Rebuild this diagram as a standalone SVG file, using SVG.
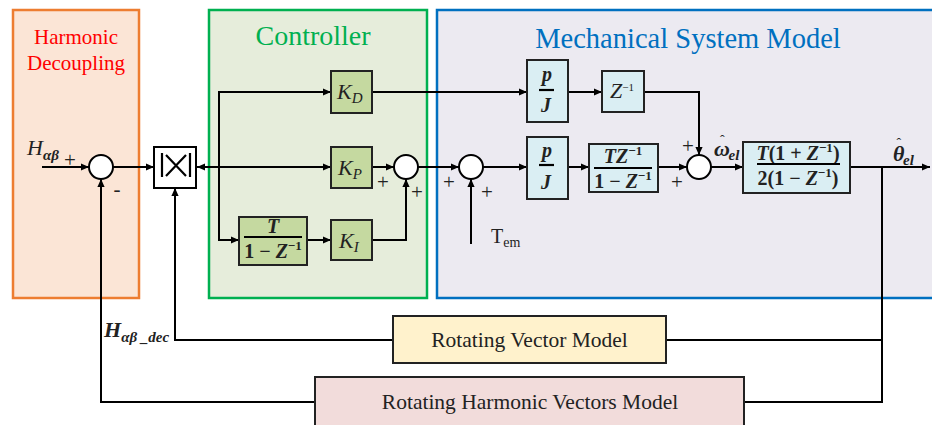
<svg xmlns="http://www.w3.org/2000/svg" width="932" height="425" viewBox="0 0 932 425">
<defs>
<marker id="arr" viewBox="0 0 10 10" refX="10" refY="5" markerWidth="8" markerHeight="8" markerUnits="userSpaceOnUse" orient="auto-start-reverse">
<path d="M0,0.5 L10,5 L0,9.5 Z" fill="#000"/>
</marker>
<style>
.region{stroke-width:2.5}
.cblk{fill:#C5D9A0;stroke:#222;stroke-width:2}
.mblk{fill:#DAEEF3;stroke:#222;stroke-width:2}
.sum{fill:#fff;stroke:#000;stroke-width:2}
.wire{fill:none;stroke:#000;stroke-width:2}
.arw{marker-end:url(#arr)}
.title{font-family:"Liberation Serif",serif;text-anchor:middle}
.m{font-family:"Liberation Serif",serif;font-style:italic;fill:#222;font-size:22px}
.mb{font-family:"Liberation Serif",serif;font-style:italic;font-weight:bold;fill:#222;font-size:20px;text-anchor:middle}
.sub{font-size:15px}
.sup{font-size:13px;font-style:normal}
.sign{font-family:"Liberation Serif",serif;font-size:21px;fill:#222;text-anchor:middle}
.lbl{font-family:"Liberation Serif",serif;font-size:21.5px;fill:#222;text-anchor:middle}
.fl{stroke:#000;stroke-width:2.2}
.hat{font-size:14px;font-style:normal;font-weight:normal}
</style>
</defs>

<g id="harmonic-decoupling">
<rect class="region" x="13" y="10" width="126" height="288" fill="#FBE5D6" stroke="#ED7D31"/>
<text class="title" x="76" y="44" font-size="21" fill="#FF0000">Harmonic</text>
<text class="title" x="76" y="70" font-size="21" fill="#FF0000">Decoupling</text>
</g>
<g id="controller">
<rect class="region" x="209" y="10" width="218" height="288" fill="#E6EDDB" stroke="#00B050"/>
<text class="title" x="313" y="45" font-size="28" fill="#00B050">Controller</text>
</g>
<g id="mechanical-system-model">
<rect class="region" x="437" y="10" width="500" height="288" fill="#ECEAF1" stroke="#0070C0"/>
<text class="title" x="688" y="48" font-size="28.5" fill="#0070C0">Mechanical System Model</text>
</g>

<g id="connectors">
<path class="wire arw" d="M42,167 H89"/>
<path class="wire arw" d="M113,167 H154"/>
<path class="wire arw" d="M219,167 H197"/>
<path class="wire arw" d="M219,167 H331"/>
<path class="wire arw" d="M219,167 V92 H331"/>
<path class="wire arw" d="M219,167 V240 H239"/>
<path class="wire arw" d="M372,167 H394"/>
<path class="wire arw" d="M307,240 H331"/>
<path class="wire arw" d="M372,240 H406 V179"/>
<path class="wire arw" d="M418,167 H459"/>
<path class="wire arw" d="M372,92 H527"/>
<path class="wire arw" d="M568,92 H602"/>
<path class="wire arw" d="M644,92 H699 V155"/>
<path class="wire arw" d="M471,244 V179"/>
<path class="wire arw" d="M483,167 H527"/>
<path class="wire arw" d="M568,167 H589"/>
<path class="wire arw" d="M658,167 H687"/>
<path class="wire arw" d="M711,167 H743"/>
<path class="wire arw" d="M850,167 H930"/>
<path class="wire" d="M882,167 V402 H744"/>
<path class="wire" d="M882,340 H666"/>
<path class="wire arw" d="M393,340 H175 V188"/>
<path class="wire arw" d="M315,402 H101 V179"/>
</g>

<g id="sum1">
<circle class="sum" cx="101" cy="167" r="12"/>
<text class="sign" x="70" y="167">+</text>
<text class="sign" x="117" y="196">-</text>
</g>
<g id="input-label">
<text class="m" x="27" y="155">H<tspan class="sub" dy="5" font-weight="bold">αβ</tspan></text>
</g>
<g id="multiplier">
<rect x="154" y="147" width="42" height="41" fill="#fff" stroke="#000" stroke-width="2"/>
<path d="M162,153 V177 M190,153 V177 M166,155 L186,176 M186,155 L166,176" stroke="#000" stroke-width="2.2" fill="none"/>
</g>
<g id="KD">
<rect class="cblk" x="331" y="71" width="41" height="42"/>
<text class="m" x="337" y="99">K<tspan class="sub" dy="4">D</tspan></text>
</g>
<g id="KP">
<rect class="cblk" x="331" y="147" width="41" height="41"/>
<text class="m" x="338" y="175">K<tspan class="sub" dy="4">P</tspan></text>
</g>
<g id="integrator">
<rect class="cblk" x="239" y="217" width="68" height="48"/>
<text class="mb" x="273" y="233" font-weight="normal">T</text>
<line class="fl" x1="244" y1="237" x2="302" y2="237"/>
<text class="mb" x="273" y="258" font-weight="normal"><tspan font-style="normal">1 − </tspan>Z<tspan class="sup" dy="-8">−1</tspan></text>
</g>
<g id="KI">
<rect class="cblk" x="331" y="220" width="41" height="40"/>
<text class="m" x="339" y="248">K<tspan class="sub" dy="4">I</tspan></text>
</g>
<g id="sum2">
<circle class="sum" cx="406" cy="167" r="12"/>
<text class="sign" x="383" y="189">+</text>
<text class="sign" x="417" y="199">+</text>
</g>
<g id="sum3">
<circle class="sum" cx="471" cy="167" r="12"/>
<text class="sign" x="449" y="189">+</text>
<text class="sign" x="487" y="199">+</text>
</g>
<g id="tem-label">
<text font-family="Liberation Serif, serif" font-size="20" fill="#222" x="491" y="243">T<tspan font-size="14" dy="4">em</tspan></text>
</g>
<g id="pJ-top">
<rect class="mblk" x="527" y="60" width="41" height="62"/>
<text class="mb" x="547" y="81" font-size="22">p</text>
<line class="fl" x1="539" y1="90" x2="554" y2="90"/>
<text class="mb" x="546" y="112" font-size="22">J</text>
</g>
<g id="zinv">
<rect class="mblk" x="602" y="71" width="42" height="41"/>
<text class="m" x="610" y="98" font-size="17">Z<tspan font-size="11" dy="-7" font-style="normal">−1</tspan></text>
</g>
<g id="pJ-bottom">
<rect class="mblk" x="527" y="137" width="41" height="62"/>
<text class="mb" x="547" y="157" font-size="22">p</text>
<line class="fl" x1="539" y1="165" x2="554" y2="165"/>
<text class="mb" x="546" y="189" font-size="22">J</text>
</g>
<g id="tz-block">
<rect class="mblk" x="589" y="144" width="69" height="48"/>
<text class="mb" x="623" y="163">TZ<tspan class="sup" dy="-8">−1</tspan></text>
<line class="fl" x1="594" y1="168" x2="652" y2="168"/>
<text class="mb" x="623" y="188"><tspan font-style="normal">1 − </tspan>Z<tspan class="sup" dy="-8">−1</tspan></text>
</g>
<g id="sum4">
<circle class="sum" cx="699" cy="167" r="12"/>
<text class="sign" x="677" y="189">+</text>
<text class="sign" x="688" y="153">+</text>
</g>
<g id="omega-label">
<text class="m" x="714" y="156" font-weight="bold" font-size="21">ω<tspan class="hat" dx="-10" dy="-11">ˆ</tspan><tspan class="sub" dx="4" dy="15">el</tspan></text>
</g>
<g id="integrator-out">
<rect class="mblk" x="743" y="142" width="107" height="51"/>
<text class="mb" x="798" y="160">T<tspan font-style="normal">(1 + </tspan>Z<tspan class="sup" dy="-8">−1</tspan><tspan font-style="normal" dy="8">)</tspan></text>
<line class="fl" x1="757" y1="164" x2="840" y2="164"/>
<text class="mb" x="798" y="185"><tspan font-style="normal">2(1 − </tspan>Z<tspan class="sup" dy="-8">−1</tspan><tspan font-style="normal" dy="8">)</tspan></text>
</g>
<g id="theta-label">
<text class="m" x="893" y="161" font-weight="bold" font-size="21">θ<tspan class="hat" dx="-8" dy="-13">ˆ</tspan><tspan class="sub" dx="2" dy="17">el</tspan></text>
</g>
<g id="hdec-label">
<text class="m" x="104" y="337" font-weight="bold" font-size="21">H<tspan class="sub" dy="5">αβ _dec</tspan></text>
</g>
<g id="rotating-vector-model">
<rect x="393" y="316" width="273" height="47" fill="#FFF2CC" stroke="#222" stroke-width="2"/>
<text class="lbl" x="529.5" y="347">Rotating Vector Model</text>
</g>
<g id="rotating-harmonic-vectors-model">
<rect x="315" y="377" width="429" height="60" fill="#F2DCDB" stroke="#222" stroke-width="2"/>
<text class="lbl" x="530" y="409">Rotating Harmonic Vectors Model</text>
</g>
</svg>
